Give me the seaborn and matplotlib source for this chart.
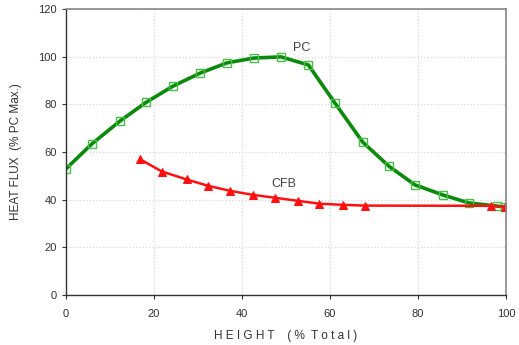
import pandas as pd
import matplotlib.pyplot as plt
import seaborn as sns

# PC series (height %, heat flux % of PC max)
pc_height = [0, 5.9, 12.3, 18.2, 24.3, 30.5, 36.6, 42.7, 48.9, 55.1, 61.1, 67.4,
             73.4, 79.3, 85.6, 91.6, 97.9, 99.8]
pc_flux = [52.9, 63.4, 73.0, 80.8, 87.6, 93.1, 97.4, 99.4, 99.9, 96.5, 80.6, 64.2,
           54.0, 46.2, 42.0, 38.6, 37.3, 36.9]

# CFB series
cfb_height = [16.8, 21.8, 27.4, 32.3, 37.3, 42.5, 47.5, 52.7, 57.6, 63.0, 68.0, 96.6, 99.8]
cfb_flux = [57.0, 51.8, 48.5, 45.8, 43.7, 42.0, 40.8, 39.5, 38.3, 37.8, 37.5, 37.4, 37.0]

pc = pd.DataFrame({'height': pc_height, 'flux': pc_flux})
cfb = pd.DataFrame({'height': cfb_height, 'flux': cfb_flux})

sns.set_style('white')
plt.rcParams['font.family'] = ['Liberation Sans', 'DejaVu Sans']

fig = plt.figure(figsize=(5.19, 3.45), dpi=100)
ax = fig.add_axes([0.127, 0.145, 0.848, 0.829])

sns.lineplot(data=pc, x='height', y='flux', ax=ax, color='#0a8a0a', lw=2.6,
             marker='s', markersize=5.5, markerfacecolor='none',
             markeredgecolor='#44c044', markeredgewidth=1.0, sort=False)
sns.lineplot(data=cfb, x='height', y='flux', ax=ax, color='#ff1010', lw=1.8,
             marker='^', markersize=5.5, markerfacecolor='#ff1010',
             markeredgecolor='#ff1010', sort=False)

ax.set_xlim(0, 100)
ax.set_ylim(0, 120)
ax.set_xticks(range(0, 101, 20))
ax.set_yticks(range(0, 121, 20))
ax.grid(True, linestyle=':', color='#d8d8d8', lw=0.9)
ax.tick_params(axis='both', labelsize=8, colors='#333333', length=3, direction='out')
ax.tick_params(axis='x', pad=7)
ax.xaxis.set_ticks_position('bottom')
ax.yaxis.set_ticks_position('left')

for s in ['left', 'bottom']:
    ax.spines[s].set_color('#333333')
    ax.spines[s].set_linewidth(1.0)
for s in ['top', 'right']:
    ax.spines[s].set_color('#888888')
    ax.spines[s].set_linewidth(1.2)

ax.set_xlabel('H E I G H T    ( %  T o t a l )', fontsize=8.5, color='#333333', labelpad=8)
ax.set_ylabel('HEAT FLUX  (% PC Max.)', fontsize=8.5, color='#333333', labelpad=12)

ax.text(53.5, 102.5, 'PC', fontsize=9, color='#444444', ha='center')
ax.text(49.5, 45.5, 'CFB', fontsize=9, color='#444444', ha='center')

fig.savefig('out.png', dpi=100)
